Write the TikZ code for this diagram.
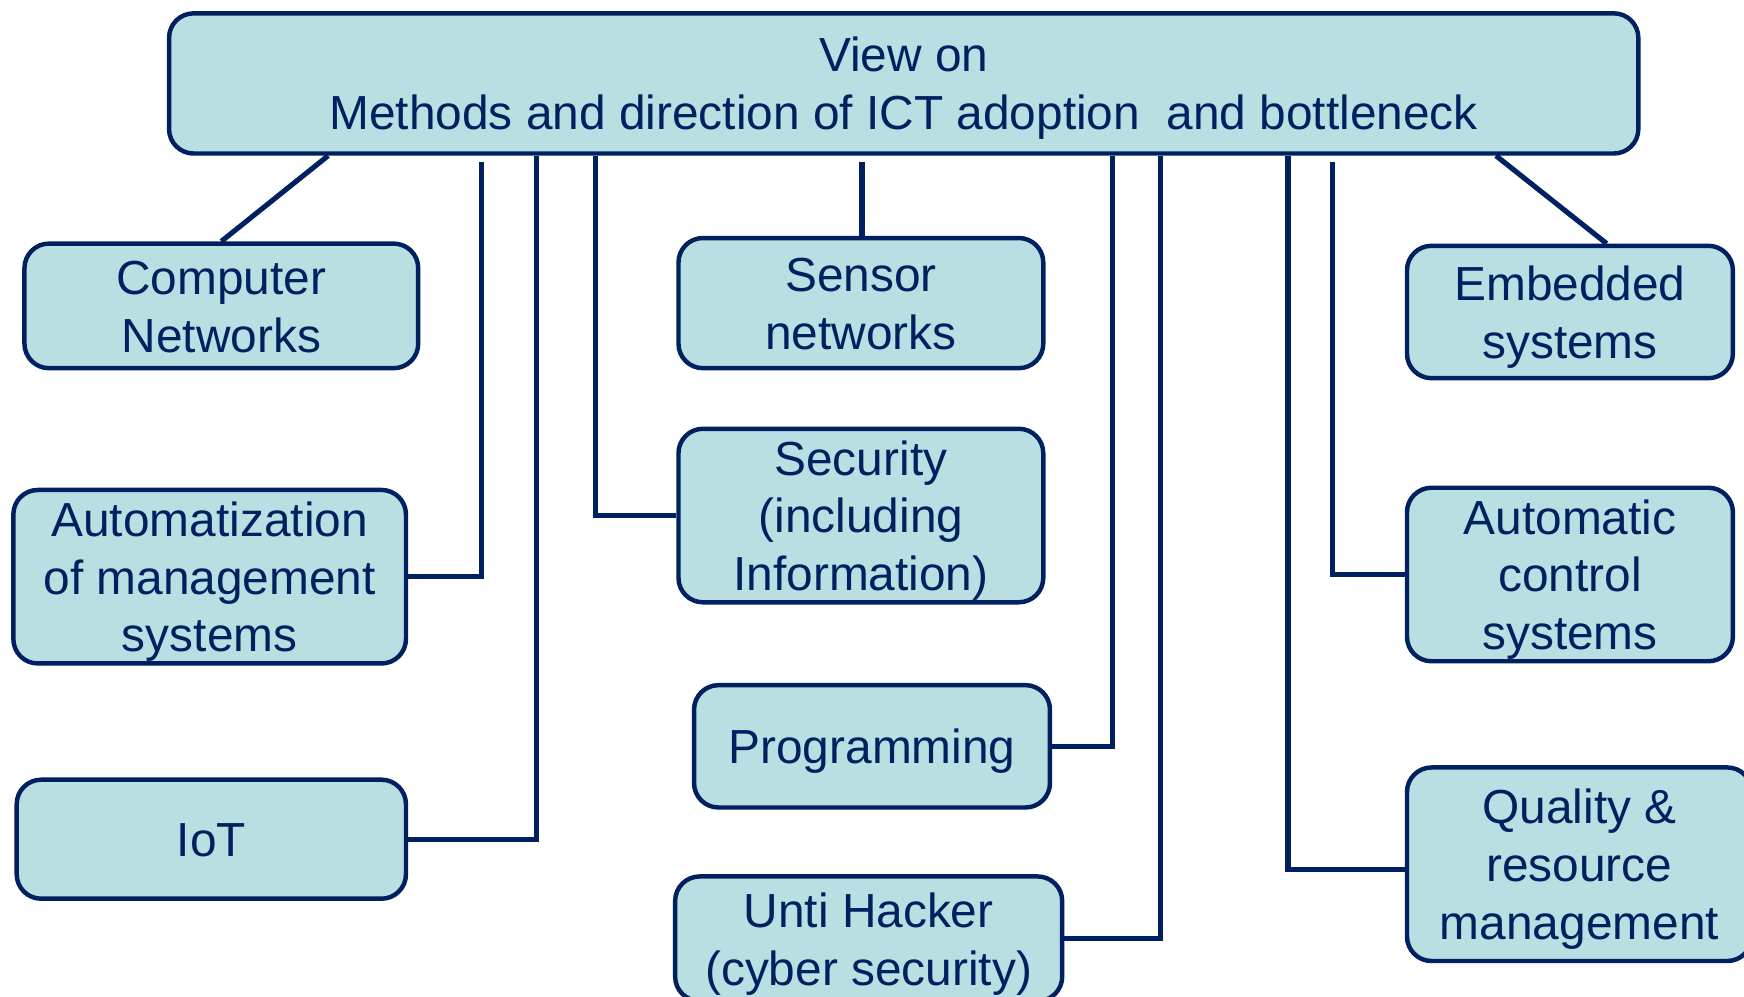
\documentclass[tikz,border=0pt]{standalone}
\usepackage{fontspec}
\setmainfont{Liberation Sans}
\definecolor{navy}{HTML}{002060}
\definecolor{boxfill}{HTML}{B9DFE3}
\newcommand{\ltext}[1]{\raisebox{-2.6pt}[\height][\depth]{\begin{tabular}{@{}c@{}}#1\end{tabular}}}
\begin{document}
\begin{tikzpicture}[x=0.5pt,y=-0.5pt,
  box/.style={draw=navy, fill=boxfill, line width=2pt, rounded corners=11pt,
    align=center, text=navy, inner sep=0pt,
    font=\fontsize{21.5pt}{26pt}\selectfont},
  link/.style={draw=navy, line width=2.3pt}]
\useasboundingbox (0,0) rectangle (1568,896);
\clip (0,0) rectangle (1568,896);
% nodes
\node[box, minimum width=660.5pt, minimum height=63pt] (top) at (812.5,75)
  {\ltext{View on\\Methods and direction of ICT adoption \ and bottleneck}};
\node[box, minimum width=177pt, minimum height=56pt] (cn) at (199,275) {\ltext{Computer\\Networks}};
\node[box, minimum width=164pt, minimum height=58.5pt] (sens) at (774,272.5) {\ltext{Sensor\\networks}};
\node[box, minimum width=146.5pt, minimum height=59.5pt] (emb) at (1411.5,280.5) {\ltext{Embedded\\systems}};
\node[box, minimum width=176.5pt, minimum height=75.5pt] (auto) at (188.5,518.5) {\ltext{Automatization\\of management\\systems}};
\node[box, minimum width=164pt, minimum height=77.5pt] (sec) at (774,463.5) {\ltext{Security\\(including\\Information)}};
\node[box, minimum width=146.5pt, minimum height=73.5pt] (ctrl) at (1411.5,516.5) {\ltext{Automatic\\control\\systems}};
\node[box, minimum width=160pt, minimum height=55pt] (prog) at (784,671) {\ltext{Programming}};
\node[box, minimum width=175pt, minimum height=53.5pt] (iot) at (190,754.5) {\ltext{IoT}};
\node[box, minimum width=174pt, minimum height=56pt] (unti) at (781,844) {\ltext{Unti Hacker\\(cyber security)}};
\node[box, minimum width=155pt, minimum height=87pt] (qual) at (1420,777) {\ltext{Quality \&\\resource\\management}};
% helper x-positions
\coordinate (x295) at (295,0);
\coordinate (x433) at (433,0);
\coordinate (x482) at (482,0);
\coordinate (x535) at (535,0);
\coordinate (x775) at (775,0);
\coordinate (x1000) at (1000,0);
\coordinate (x1043) at (1043,0);
\coordinate (x1158) at (1158,0);
\coordinate (x1198) at (1198,0);
\coordinate (x1345) at (1345,0);
% connectors
\draw[link] (top.south -| x295) -- (cn.north);
\draw[link] ([yshift=-3pt]top.south -| x433) |- (auto.east);
\draw[link] (top.south -| x482) |- (iot.east);
\draw[link] (top.south -| x535) |- (sec.west);
\draw[link] ([yshift=-3pt]top.south -| x775) -- (sens.north -| x775);
\draw[link] (top.south -| x1000) |- (prog.east);
\draw[link] (top.south -| x1043) |- (unti.east);
\draw[link] (top.south -| x1158) |- ([yshift=-2.5pt]qual.west);
\draw[link] ([yshift=-3pt]top.south -| x1198) |- (ctrl.west);
\draw[link] (top.south -| x1345) -- ([xshift=16.5pt]emb.north);
\end{tikzpicture}
\end{document}
